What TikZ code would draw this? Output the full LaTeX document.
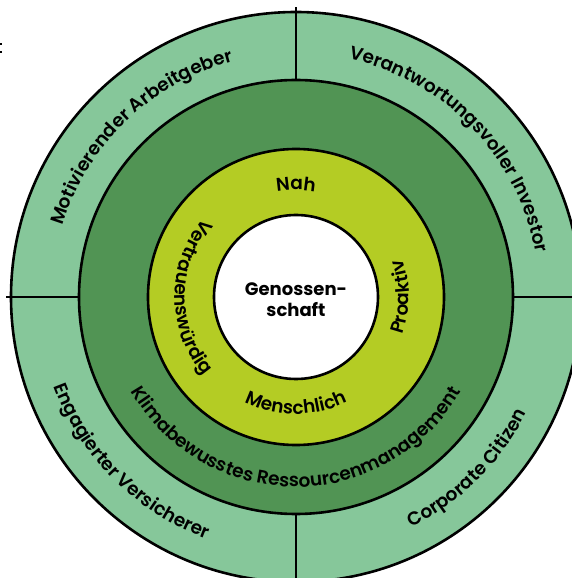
\documentclass[tikz,border=0pt]{standalone}
\usepackage{fontspec}
\setmainfont{Poppins}[UprightFont={* SemiBold},BoldFont={* Bold}]
\usetikzlibrary{decorations.text}
\definecolor{outerg}{RGB}{134,199,154}
\definecolor{darkg}{RGB}{81,148,84}
\definecolor{limeg}{RGB}{180,204,36}
\newcommand\ringfont{\fontsize{18.5}{21}\selectfont}
\tikzset{
  ringline/.style={draw=black, line width=2.6pt},
  sepline/.style={draw=black, line width=2.6pt},
  arctext/.style={decorate, decoration={text along path, text align=center, text={|\ringfont|#1}}}
}
\begin{document}
\begin{tikzpicture}[x=1pt,y=1pt]
\useasboundingbox (-296,-281) rectangle (276,297);
\fill[white] (-296,-281) rectangle (276,297);
\begin{scope}
\clip (-296,-281) rectangle (276,297);
\coordinate (c) at (0,0);
\draw[ringline, fill=outerg] (c) circle (285);
\draw[ringline, fill=darkg] (c) circle (217);
\draw[ringline, fill=limeg] (c) circle (148);
\draw[ringline, fill=white] (c) circle (82);
\draw[sepline] (90:217) -- (90:290);
\draw[sepline] (180:217) -- (180:290);
\draw[sepline] (270:217) -- (270:290);
\draw[sepline] (0:217) -- (0:290);
% outer ring
\path[arctext={Motivierender Arbeitgeber}] (172:244) arc[start angle=172, end angle=96, radius=244];
\path[arctext={Verantwortungsvoller Investor}] (84:244) arc[start angle=84, end angle=4, radius=244];
\path[arctext={Engagierter Versicherer}] (180:258) arc[start angle=180, end angle=270, radius=258];
\path[arctext={Corporate Citizen}] (270:258) arc[start angle=270, end angle=360, radius=258];
% dark ring
\path[arctext={Klimabewusstes Ressourcenmanagement}] (180:190) arc[start angle=180, end angle=360, radius=190];
% lime ring
\path[arctext={Nah}] (130:107) arc[start angle=130, end angle=50, radius=107];
\path[arctext={Proaktiv}] (-40:113) arc[start angle=-40, end angle=40, radius=113];
\path[arctext={Menschlich}] (220:117) arc[start angle=220, end angle=320, radius=117];
\path[arctext={Vertrauenswürdig}] (120:121) arc[start angle=120, end angle=240, radius=121];
\node[font=\bfseries\fontsize{18}{21}\selectfont, align=center] (core) at (0,-3) {Genossen-\\schaft};
\end{scope}
\fill[black] (-296,252) rectangle (-294,254);
\fill[black] (-296,244) rectangle (-294,246);
\end{tikzpicture}
\end{document}
